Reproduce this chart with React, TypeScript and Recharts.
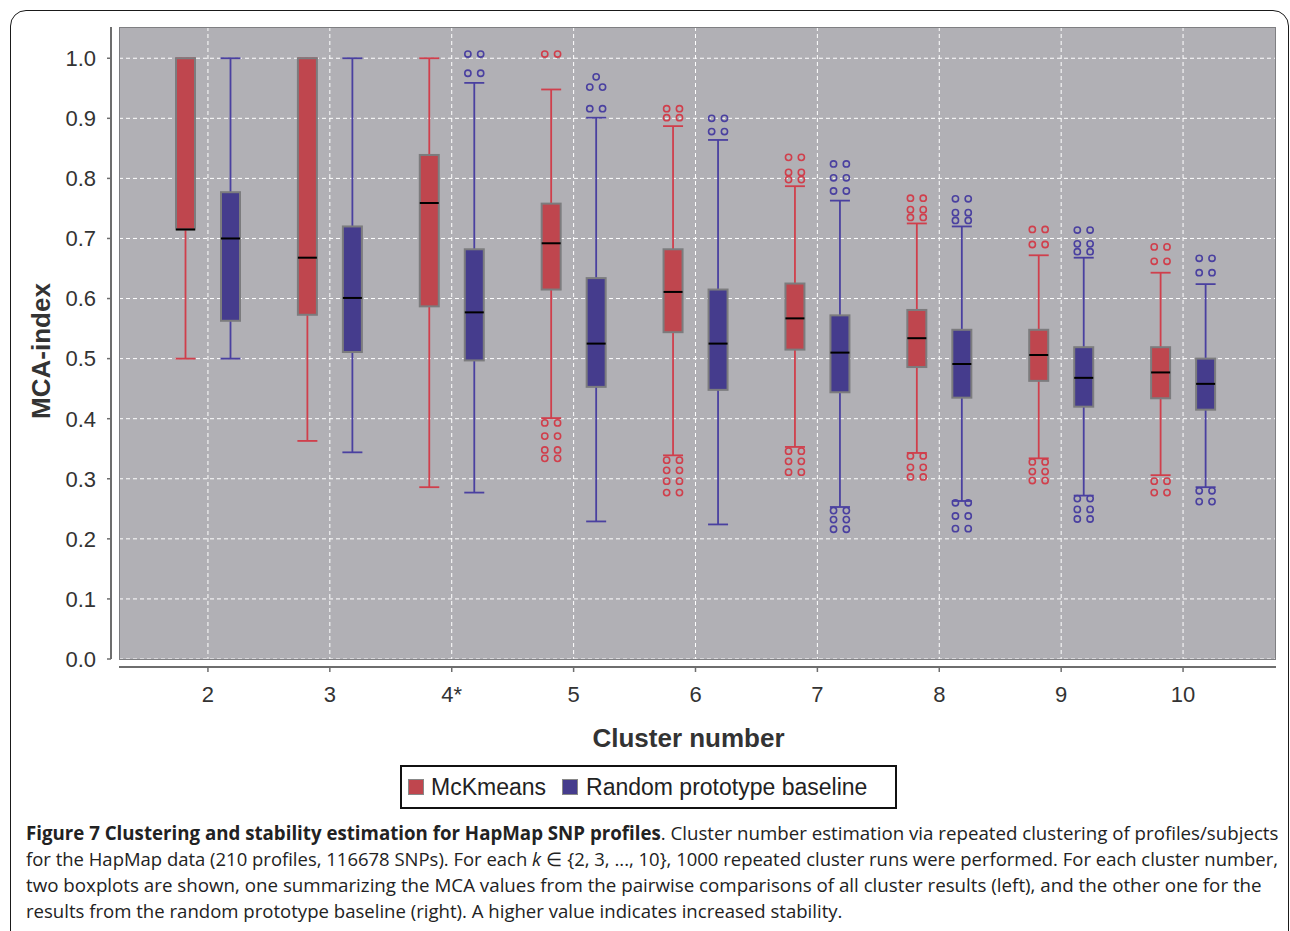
import React, { useLayoutEffect, useRef, useState } from 'react';
import { ComposedChart, Bar, XAxis, YAxis, CartesianGrid } from 'recharts';

// ---------- data ----------
const categories = ['2', '3', '4*', '5', '6', '7', '8', '9', '10'];
const yTicks = [0, 0.1, 0.2, 0.3, 0.4, 0.5, 0.6, 0.7, 0.8, 0.9, 1.0];

// McKmeans (left boxes)
const mckLow = [0.5, 0.363, 0.286, 0.401, 0.339, 0.353, 0.343, 0.334, 0.306];
const mckQ1 = [0.715, 0.573, 0.587, 0.615, 0.544, 0.515, 0.486, 0.463, 0.434];
const mckMedian = [0.715, 0.668, 0.759, 0.692, 0.611, 0.567, 0.534, 0.506, 0.477];
const mckQ3 = [1.0, 1.0, 0.839, 0.758, 0.682, 0.625, 0.581, 0.548, 0.519];
const mckHigh = [1.0, 1.0, 1.0, 0.948, 0.887, 0.787, 0.725, 0.672, 0.643];
const mckOutliers = [
  [],
  [],
  [],
  [1.007, 1.007, 0.393, 0.393, 0.371, 0.371, 0.348, 0.348, 0.334, 0.334],
  [0.916, 0.916, 0.901, 0.901, 0.331, 0.331, 0.314, 0.314, 0.296, 0.296, 0.277, 0.277],
  [0.835, 0.835, 0.81, 0.81, 0.798, 0.798, 0.346, 0.346, 0.329, 0.329, 0.311, 0.311],
  [0.767, 0.767, 0.748, 0.748, 0.735, 0.735, 0.338, 0.338, 0.319, 0.319, 0.303, 0.303],
  [0.715, 0.715, 0.69, 0.69, 0.328, 0.328, 0.312, 0.312, 0.297, 0.297],
  [0.686, 0.686, 0.662, 0.662, 0.296, 0.296, 0.277, 0.277],
];

// Random prototype baseline (right boxes)
const rndLow = [0.5, 0.344, 0.277, 0.229, 0.224, 0.253, 0.263, 0.272, 0.286];
const rndQ1 = [0.563, 0.511, 0.497, 0.453, 0.448, 0.444, 0.435, 0.42, 0.415];
const rndMedian = [0.7, 0.601, 0.577, 0.525, 0.525, 0.51, 0.491, 0.468, 0.458];
const rndQ3 = [0.777, 0.72, 0.682, 0.634, 0.615, 0.572, 0.548, 0.519, 0.5];
const rndHigh = [1.0, 1.0, 0.959, 0.901, 0.864, 0.763, 0.72, 0.668, 0.624];
const rndOutliers = [
  [],
  [],
  [1.007, 1.007, 0.975, 0.975],
  [0.969, 0.952, 0.952, 0.916, 0.916],
  [0.9, 0.9, 0.878, 0.878],
  [0.824, 0.824, 0.801, 0.801, 0.779, 0.779, 0.247, 0.247, 0.232, 0.232, 0.216, 0.216],
  [0.766, 0.766, 0.743, 0.743, 0.73, 0.73, 0.26, 0.26, 0.238, 0.238, 0.217, 0.217],
  [0.714, 0.714, 0.691, 0.691, 0.678, 0.678, 0.267, 0.267, 0.249, 0.249, 0.233, 0.233],
  [0.667, 0.667, 0.643, 0.643, 0.28, 0.28, 0.262, 0.262],
];

const seriesNames = ['McKmeans', 'Random prototype baseline'];

// ---------- styling ----------
const RED_FILL = '#bf464e';
const RED_LINE = '#d03f4c';
const BLUE_FILL = '#453c8d';
const BLUE_LINE = '#4a40a0';
const BOX_STROKE = '#7c7c7e';
const PLOT_BG = '#b1b0b5';
const FONT = '"Liberation Sans", Arial, sans-serif';
const CAPTION_FONT = '"Open Sans", "Noto Sans", sans-serif';

const rows = categories.map((k, i) => ({
  k,
  mck: { low: mckLow[i], q1: mckQ1[i], med: mckMedian[i], q3: mckQ3[i], high: mckHigh[i], out: mckOutliers[i] },
  rnd: { low: rndLow[i], q1: rndQ1[i], med: rndMedian[i], q3: rndQ3[i], high: rndHigh[i], out: rndOutliers[i] },
  mckRange: [mckLow[i], mckHigh[i]],
  rndRange: [rndLow[i], rndHigh[i]],
}));

const makeBox = (key: 'mck' | 'rnd', fill: string, line: string) => (props: any) => {
  const { x, y, width, height, payload } = props;
  const s = payload[key];
  if (!s || !height) return <g />;
  const ppu = height / (s.high - s.low);
  const Y = (v: number) => y + (s.high - v) * ppu;
  const cx = x + width / 2;
  const counts = new Map<number, number>();
  s.out.forEach((v: number) => counts.set(v, (counts.get(v) || 0) + 1));
  const circles: [number, number][] = [];
  counts.forEach((n, v) => {
    if (n === 1) circles.push([cx, Y(v)]);
    else {
      circles.push([cx - 6.4, Y(v)]);
      circles.push([cx + 6.4, Y(v)]);
    }
  });
  return (
    <g>
      <line x1={cx} x2={cx} y1={Y(s.high)} y2={Y(s.low)} stroke={line} strokeWidth={1.8} />
      <line x1={x - 0.5} x2={x + width + 0.5} y1={Y(s.high)} y2={Y(s.high)} stroke={line} strokeWidth={1.8} />
      <line x1={x - 0.5} x2={x + width + 0.5} y1={Y(s.low)} y2={Y(s.low)} stroke={line} strokeWidth={1.8} />
      <rect x={x} y={Y(s.q3)} width={width} height={Y(s.q1) - Y(s.q3)} fill={fill} stroke={BOX_STROKE} strokeWidth={2} />
      <line x1={x} x2={x + width} y1={Y(s.med)} y2={Y(s.med)} stroke="#000" strokeWidth={2} />
      {circles.map(([px, py], i) => (
        <circle key={i} cx={px} cy={py} r={3.1} fill="none" stroke={line} strokeWidth={1.6} />
      ))}
    </g>
  );
};

const YTitle = () => (
  <text
    x={50}
    y={351}
    transform="rotate(-90 50 351)"
    textAnchor="middle"
    fontFamily={FONT}
    fontWeight="bold"
    fontSize={26}
    fill="#333"
  >
    MCA-index
  </text>
);

const XTitle = (p: any) => {
  const vb = p.viewBox || { x: 119, y: 659, width: 1157 };
  return (
    <text
      x={vb.x + vb.width / 2 - 9}
      y={vb.y + 88}
      textAnchor="middle"
      fontFamily={FONT}
      fontWeight="bold"
      fontSize={26}
      fill="#333"
    >
      Cluster number
    </text>
  );
};

// A caption line condensed horizontally to a target width (the source uses a narrow typeface).
const CaptionLine = ({ target, children }: { target: number; children: React.ReactNode }) => {
  const ref = useRef<HTMLSpanElement>(null);
  const [scale, setScale] = useState(0.88);
  useLayoutEffect(() => {
    if (ref.current) {
      const w = ref.current.offsetWidth;
      if (w > 0) setScale(target / w);
    }
  }, [target]);
  return (
    <div style={{ height: 26, whiteSpace: 'nowrap' }}>
      <span
        ref={ref}
        style={{
          display: 'inline-block',
          whiteSpace: 'nowrap',
          transformOrigin: '0 0',
          transform: `scaleX(${scale})`,
        }}
      >
        {children}
      </span>
    </div>
  );
};

export default function App() {
  return (
    <div
      style={{
        position: 'absolute',
        left: 0,
        top: 0,
        width: 1290,
        height: 931,
        overflow: 'hidden',
        background: '#fff',
      }}
    >
      <div
        style={{
          position: 'absolute',
          left: 10,
          top: 10,
          width: 1279,
          height: 960,
          boxSizing: 'border-box',
          border: '1.5px solid #1a1a1a',
          borderRadius: 16,
        }}
      />
      <div style={{ position: 'absolute', left: 0, top: 0 }}>
        <ComposedChart
          width={1290}
          height={770}
          data={rows}
          margin={{ top: 27, right: 14, bottom: 61, left: 0 }}
          barSize={19}
          barGap={26}
        >
          <CartesianGrid stroke="#ffffff" strokeDasharray="4 3" strokeWidth={1} fill={PLOT_BG} fillOpacity={1} />
          <XAxis
            dataKey="k"
            type="category"
            height={50}
            padding={{ left: 28, right: 32 }}
            tickSize={5}
            tickMargin={22}
            axisLine={{ stroke: '#6e6e6e', strokeWidth: 2, transform: 'translate(0,8)' }}
            tickLine={{ stroke: '#6e6e6e', strokeWidth: 1.5, transform: 'translate(0,8)' }}
            tick={{ fill: '#333', fontSize: 22, fontFamily: FONT }}
            label={{ content: (p: any) => <XTitle {...p} /> }}
          />
          <YAxis
            type="number"
            width={119}
            domain={[0, 1.052]}
            ticks={yTicks}
            interval={0}
            tickFormatter={(v: number) => v.toFixed(1)}
            tickSize={4}
            tickMargin={19}
            axisLine={{ stroke: '#6e6e6e', strokeWidth: 2, transform: 'translate(-8,0)' }}
            tickLine={{ stroke: '#6e6e6e', strokeWidth: 1.5, transform: 'translate(-8,0)' }}
            tick={{ fill: '#333', fontSize: 22, fontFamily: FONT }}
            label={{ content: () => <YTitle /> }}
          />
          <Bar
            dataKey="mckRange"
            name={seriesNames[0]}
            fill={RED_FILL}
            isAnimationActive={false}
            shape={makeBox('mck', RED_FILL, RED_LINE)}
          />
          <Bar
            dataKey="rndRange"
            name={seriesNames[1]}
            fill={BLUE_FILL}
            isAnimationActive={false}
            shape={makeBox('rnd', BLUE_FILL, BLUE_LINE)}
          />
        </ComposedChart>
      </div>
      {/* plot outline */}
      <div
        style={{
          position: 'absolute',
          left: 119,
          top: 27,
          width: 1157,
          height: 633,
          boxSizing: 'border-box',
          border: '1px solid #7f7f82',
          pointerEvents: 'none',
        }}
      />
      {/* legend */}
      <div
        style={{
          position: 'absolute',
          left: 400,
          top: 765,
          width: 497,
          height: 44,
          boxSizing: 'border-box',
          border: '2px solid #111',
          display: 'flex',
          alignItems: 'center',
          paddingLeft: 6,
          fontFamily: FONT,
          fontSize: 23,
          color: '#222',
          whiteSpace: 'nowrap',
        }}
      >
        <span style={{ width: 16, height: 16, boxSizing: 'border-box', background: RED_FILL, border: '1.5px solid #888', display: 'inline-block', flex: 'none' }} />
        <span style={{ marginLeft: 7 }}>{seriesNames[0]}</span>
        <span style={{ marginLeft: 16, width: 16, height: 16, boxSizing: 'border-box', background: BLUE_FILL, border: '1.5px solid #888', display: 'inline-block', flex: 'none' }} />
        <span style={{ marginLeft: 8 }}>{seriesNames[1]}</span>
      </div>
      {/* caption */}
      <div
        style={{
          position: 'absolute',
          left: 26,
          top: 820,
          width: 1260,
          fontFamily: CAPTION_FONT,
          fontSize: 19,
          lineHeight: '26px',
          color: '#222',
        }}
      >
        <CaptionLine target={1252}>
          <b>Figure 7 Clustering and stability estimation for HapMap SNP profiles</b>
          . Cluster number estimation via repeated clustering of profiles/subjects
        </CaptionLine>
        <CaptionLine target={1252}>
          for the HapMap data (210 profiles, 116678 SNPs). For each <i>k</i>
          {' \u2208  {2, 3, ..., 10}, 1000 repeated cluster runs were performed. For each cluster number,'}
        </CaptionLine>
        <CaptionLine target={1236}>
          two boxplots are shown, one summarizing the MCA values from the pairwise comparisons of all cluster results (left), and the other one for the
        </CaptionLine>
        <CaptionLine target={816}>
          results from the random prototype baseline (right). A higher value indicates increased stability.
        </CaptionLine>
      </div>
    </div>
  );
}
